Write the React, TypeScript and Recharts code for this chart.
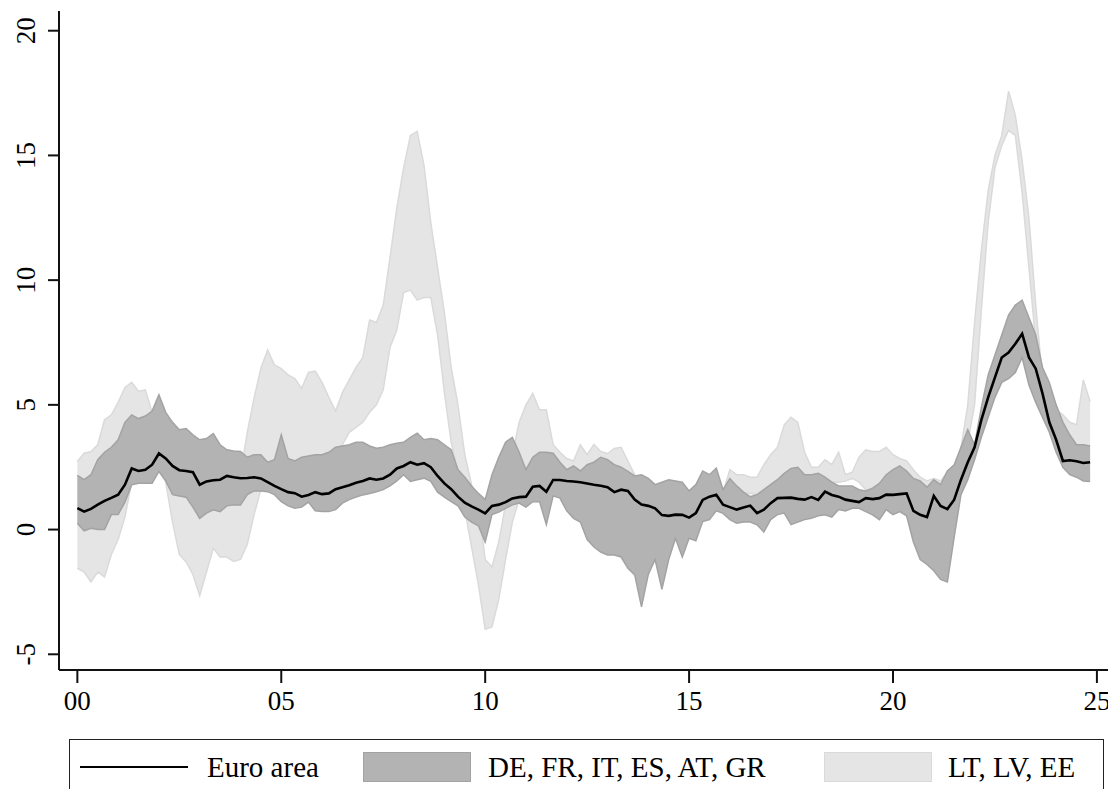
import React from 'react';
import { ComposedChart, Area, Line, XAxis, YAxis } from 'recharts';

// Bi-monthly observations, Jan 2000 .. Nov 2024 (6 per year)
const START_YEAR = 2000;
const PER_YEAR = 6;

const euroArea = [
  0.86, 0.72, 0.83, 1.0, 1.15, 1.27,
  1.4, 1.8, 2.45, 2.35, 2.4, 2.6,
  3.05, 2.85, 2.55, 2.38, 2.35, 2.3,
  1.8, 1.93, 1.98, 2.0, 2.15, 2.1,
  2.06, 2.07, 2.1, 2.05, 1.9, 1.75,
  1.62, 1.5, 1.46, 1.32, 1.39, 1.5,
  1.42, 1.45, 1.62, 1.7, 1.78, 1.88,
  1.95, 2.05, 2.0, 2.05, 2.2, 2.45,
  2.55, 2.7, 2.6, 2.66, 2.5, 2.15,
  1.85, 1.62, 1.32, 1.08, 0.93, 0.8,
  0.65, 0.95, 1.0, 1.1, 1.25, 1.3,
  1.32, 1.72, 1.75, 1.52, 1.99, 1.99,
  1.95, 1.93, 1.9, 1.85, 1.8, 1.76,
  1.7, 1.5, 1.6, 1.55, 1.2, 1.0,
  0.95, 0.85, 0.58, 0.55, 0.6, 0.59,
  0.48, 0.66, 1.19, 1.32, 1.4, 1.0,
  0.9, 0.8, 0.88, 0.96, 0.66, 0.8,
  1.06, 1.26, 1.27, 1.28, 1.23, 1.2,
  1.3, 1.19, 1.52, 1.39, 1.32, 1.2,
  1.15, 1.1, 1.26, 1.22, 1.26, 1.4,
  1.39, 1.42, 1.45, 0.75, 0.59, 0.5,
  1.35, 0.95, 0.82, 1.2, 2.0, 2.7,
  3.3, 4.4, 5.3, 6.1, 6.9, 7.1,
  7.45, 7.85, 6.9, 6.45, 5.45, 4.3,
  3.6, 2.75, 2.78, 2.74, 2.67, 2.7,
];

// DE, FR, IT, ES, AT, GR range
const coreHigh = [
  2.17, 2.0, 2.2, 2.8, 3.1, 3.3,
  3.6, 4.3, 4.6, 4.45, 4.55, 4.75,
  5.4, 4.7, 4.3, 4.0, 4.05, 3.8,
  3.6, 3.65, 3.85, 3.4, 3.2, 3.15,
  3.13, 2.9, 3.0, 3.0, 2.7, 2.8,
  3.8, 2.85, 2.75, 2.9, 2.95, 3.0,
  3.0, 3.1, 3.3, 3.35, 3.4, 3.5,
  3.5, 3.35, 3.26, 3.3, 3.4, 3.46,
  3.5, 3.7, 3.86, 3.6, 3.65, 3.6,
  3.4, 3.2, 2.4, 2.1, 1.75, 1.45,
  1.2, 2.2, 2.9, 3.5, 3.7, 3.1,
  2.4, 2.9, 3.1, 3.1, 3.06, 2.7,
  2.4, 2.55, 2.35, 2.6, 2.7, 2.9,
  2.8, 2.6, 2.5, 2.33, 2.15, 2.2,
  2.05, 1.8, 1.9, 2.0, 1.95, 1.9,
  1.55, 1.8, 2.35, 2.2, 2.46, 1.6,
  2.05, 1.75, 1.5, 1.32, 1.4, 1.6,
  1.8, 2.0, 2.25, 2.45, 2.5, 2.2,
  2.2, 2.26, 2.1, 1.9, 1.75, 1.75,
  1.75, 1.6, 1.55, 1.66, 1.85, 2.2,
  2.4, 2.55, 2.35, 2.05, 1.95, 1.7,
  2.0, 1.8, 2.35, 2.6, 3.3, 4.0,
  3.4, 4.9, 6.2, 7.0, 7.8, 8.6,
  9.0, 9.2, 8.5, 7.8, 6.5, 5.9,
  5.0, 4.3, 3.8, 3.4, 3.4, 3.35,
];

const coreLow = [
  0.25, -0.05, 0.05, 0.0, 0.0, 0.6,
  0.6, 1.1, 1.8, 1.86, 1.86, 1.86,
  2.33, 1.95, 1.4, 1.35, 1.3, 0.9,
  0.45, 0.66, 0.79, 0.72, 0.95, 0.99,
  0.99, 1.4, 1.55, 1.55, 1.52, 1.4,
  1.12, 0.95, 0.86, 0.9, 1.1, 0.75,
  0.72, 0.72, 0.8, 1.06, 1.2, 1.3,
  1.39, 1.45, 1.52, 1.6, 1.75, 1.95,
  2.2, 1.93, 2.0, 2.06, 1.93, 1.5,
  1.3, 1.12, 0.95, 0.5, 0.3, 0.15,
  -0.5, 0.6, 0.7, 0.85, 0.99, 1.06,
  0.9, 1.12, 1.12, 0.2, 1.35, 1.26,
  0.75, 0.45, 0.3, -0.4, -0.7, -0.9,
  -1.02, -1.02, -1.1, -1.55, -1.82, -3.1,
  -1.8, -1.2, -2.4, -1.2, -0.35, -1.1,
  -0.35, -0.45, 0.32, 0.4, 0.75, 0.65,
  0.4, 0.25, 0.3, 0.3, 0.19, -0.1,
  0.4, 0.6, 0.66, 0.2, 0.3, 0.4,
  0.45, 0.55, 0.59, 0.5, 0.8, 0.75,
  0.85, 0.85, 0.72, 0.59, 0.4, 0.8,
  0.6, 0.72, 0.55, -0.5, -1.2, -1.4,
  -1.65, -2.0, -2.1, -0.3, 1.4, 2.0,
  2.8, 3.7, 4.5, 5.3, 5.9, 6.05,
  6.3, 6.9, 5.8, 5.1, 4.5, 3.9,
  3.1, 2.5, 2.2, 2.1, 1.95, 1.93,
];

// LT, LV, EE range
const balticHigh = [
  2.73, 3.06, 3.13, 3.4, 4.4, 4.6,
  5.1, 5.7, 5.9, 5.55, 5.6, 4.7,
  3.5, 2.5, 2.55, 2.38, 2.35, 2.3,
  1.8, 1.93, 1.98, 2.0, 2.15, 2.1,
  2.2, 3.9, 5.27, 6.47, 7.2, 6.6,
  6.45, 6.2, 6.05, 5.66, 6.3, 6.35,
  5.9, 5.3, 4.75, 5.5, 6.0, 6.5,
  6.9, 8.4, 8.3, 9.0, 10.9, 12.9,
  14.5, 15.8, 15.96, 14.6, 12.3, 10.5,
  8.7, 6.5, 5.0, 3.0, 1.8, 1.0,
  -1.2, -1.5, -0.5, 1.0, 3.0, 4.3,
  5.0, 5.46, 4.8, 4.8, 3.4, 3.1,
  2.85, 2.75, 3.4, 3.0, 3.41, 3.13,
  3.05, 3.25, 3.3, 2.75, 2.2, 1.0,
  0.95, 0.85, 0.58, 0.55, 0.6, 0.59,
  0.48, 0.66, 1.19, 1.32, 1.4, 1.5,
  2.4, 2.2, 2.2, 2.1, 2.1, 2.6,
  3.0, 3.3, 4.2, 4.5, 4.3, 3.1,
  2.5, 2.5, 2.8, 2.6, 3.1, 2.2,
  2.3, 2.9, 3.2, 3.13, 3.13, 3.3,
  3.0, 2.85, 2.75, 2.4, 2.1, 1.95,
  2.05, 1.95, 2.3, 2.5, 3.26, 5.0,
  8.3, 11.2, 13.6, 15.0, 15.8, 17.57,
  16.6, 14.8, 12.5, 9.0, 6.0, 4.5,
  4.8, 4.6, 4.3, 4.2, 6.0, 5.13,
];

const balticLow = [
  -1.55, -1.7, -2.1, -1.7, -1.9, -1.0,
  -0.4, 0.5, 1.9, 2.0, 2.0, 2.0,
  2.5, 1.9, 0.3, -1.0, -1.3, -1.8,
  -2.65, -1.7, -0.75, -1.1, -1.1, -1.28,
  -1.2, -0.6, 0.6, 1.6, 2.4, 2.5,
  2.6, 2.5, 2.4, 2.5, 2.6, 2.7,
  2.7, 2.8, 3.2, 3.4, 3.9, 4.1,
  4.3, 4.7, 5.0, 5.6, 7.3, 8.0,
  9.5, 9.6, 9.2, 9.3, 9.3, 7.8,
  5.5, 3.5, 2.3, 0.8, -0.7, -2.2,
  -4.0, -3.9, -2.8, -1.2, 0.3, 1.2,
  1.5, 1.8, 1.8, 1.8, 2.0, 2.0,
  1.9, 1.9, 1.9, 1.85, 1.8, 1.76,
  1.7, 1.6, 1.6, 1.55, 1.2, 1.0,
  0.95, 0.85, 0.58, 0.55, 0.6, 0.59,
  0.48, 0.66, 1.19, 1.32, 1.4, 1.2,
  1.8, 1.6, 1.5, 1.45, 1.4, 1.6,
  1.8, 2.0, 2.2, 2.3, 2.3, 2.1,
  2.1, 2.1, 2.0, 1.9, 1.9, 1.95,
  2.05, 1.9, 1.6, 1.6, 1.8, 2.1,
  2.3, 2.4, 2.2, 1.9, 1.8, 1.6,
  1.8, 1.7, 2.0, 2.3, 2.9, 3.5,
  5.0, 8.8, 12.3, 14.5, 15.4, 16.0,
  15.8, 13.5, 10.5, 7.5, 5.0, 4.0,
  3.5, 2.6, 2.4, 2.3, 2.2, 2.0,
];

const xTicks = [2000, 2005, 2010, 2015, 2020, 2025];
const yTicks = [-5, 0, 5, 10, 15, 20];
const X_DOMAIN: [number, number] = [1999.55, 2025.37];
const Y_DOMAIN: [number, number] = [-5.63, 20.79];

const data = euroArea.map((v, i) => ({
  t: START_YEAR + i / PER_YEAR,
  euro: v,
  core: [coreLow[i], coreHigh[i]],
  baltic: [balticLow[i], balticHigh[i]],
}));

const FONT = '"Liberation Serif", "Times New Roman", serif';
const AXIS = '#111';
const DARK_FILL = '#b3b3b3';
const DARK_EDGE = '#a3a3a3';
const LIGHT_FILL = '#e5e5e5';
const LIGHT_EDGE = '#dadada';

const XTick = (props: any) => {
  const { x, y, payload } = props;
  const s = String(Math.round(payload.value) % 100).padStart(2, '0');
  return (
    <text x={x} y={y} dy="0.71em" textAnchor="middle" fontFamily={FONT} fontSize={27} fill="#000">
      {s}
    </text>
  );
};

const YTick = (props: any) => {
  const { x, y, payload } = props;
  return (
    <text x={x} y={y} transform={`rotate(-90, ${x}, ${y})`} textAnchor="middle" fontFamily={FONT} fontSize={27} fill="#000">
      {String(payload.value)}
    </text>
  );
};

export default function App() {
  return (
    <div style={{ position: 'relative', width: 1108, height: 781, fontFamily: FONT }}>
      <ComposedChart width={1108} height={735} data={data} margin={{ top: 3, right: 4, bottom: 0, left: 0 }}>
        <XAxis
          dataKey="t"
          type="number"
          domain={X_DOMAIN}
          ticks={xTicks}
          allowDataOverflow
          height={73}
          tick={<XTick />}
          tickSize={13}
          tickMargin={8}
          axisLine={{ stroke: AXIS, strokeWidth: 2 }}
          tickLine={{ stroke: AXIS, strokeWidth: 2 }}
        />
        <XAxis
          xAxisId="top"
          orientation="top"
          type="number"
          domain={X_DOMAIN}
          height={0}
          tick={false}
          tickLine={false}
          axisLine={{ stroke: AXIS, strokeWidth: 1.6 }}
        />
        <YAxis
          type="number"
          domain={Y_DOMAIN}
          ticks={yTicks}
          allowDataOverflow
          width={51}
          tick={<YTick />}
          tickSize={11}
          tickMargin={13}
          axisLine={{ stroke: AXIS, strokeWidth: 2 }}
          tickLine={{ stroke: AXIS, strokeWidth: 2 }}
        />
        <YAxis
          yAxisId="right"
          orientation="right"
          type="number"
          domain={Y_DOMAIN}
          width={0}
          tick={false}
          tickLine={false}
          axisLine={{ stroke: AXIS, strokeWidth: 1.6 }}
        />
        <Area
          dataKey="baltic"
          type="linear"
          fill={LIGHT_FILL}
          fillOpacity={1}
          stroke={LIGHT_EDGE}
          strokeWidth={1.5}
          isAnimationActive={false}
          dot={false}
          activeDot={false}
        />
        <Area
          dataKey="core"
          type="linear"
          fill={DARK_FILL}
          fillOpacity={1}
          stroke={DARK_EDGE}
          strokeWidth={1.5}
          isAnimationActive={false}
          dot={false}
          activeDot={false}
        />
        <Line
          dataKey="euro"
          type="linear"
          stroke="#000"
          strokeWidth={2.6}
          dot={false}
          activeDot={false}
          isAnimationActive={false}
        />
      </ComposedChart>
      <div
        style={{
          position: 'absolute',
          left: 61,
          top: 731,
          width: 1035,
          height: 60,
          border: '1.5px solid #222',
          boxSizing: 'border-box',
          fontSize: 29,
          color: '#000',
        }}
      >
        <div style={{ position: 'absolute', left: 10, top: 26, width: 108, height: 2, background: '#000' }} />
        <div style={{ position: 'absolute', left: 137, top: 9, lineHeight: '36px' }}>Euro area</div>
        <div style={{ position: 'absolute', left: 293, top: 12, width: 108, height: 30, background: DARK_FILL, border: `1.5px solid ${DARK_EDGE}`, boxSizing: 'border-box' }} />
        <div style={{ position: 'absolute', left: 418, top: 9, lineHeight: '36px' }}>DE, FR, IT, ES, AT, GR</div>
        <div style={{ position: 'absolute', left: 754, top: 12, width: 108, height: 30, background: LIGHT_FILL, border: `1.5px solid ${LIGHT_EDGE}`, boxSizing: 'border-box' }} />
        <div style={{ position: 'absolute', left: 878, top: 9, lineHeight: '36px' }}>LT, LV, EE</div>
      </div>
    </div>
  );
}
